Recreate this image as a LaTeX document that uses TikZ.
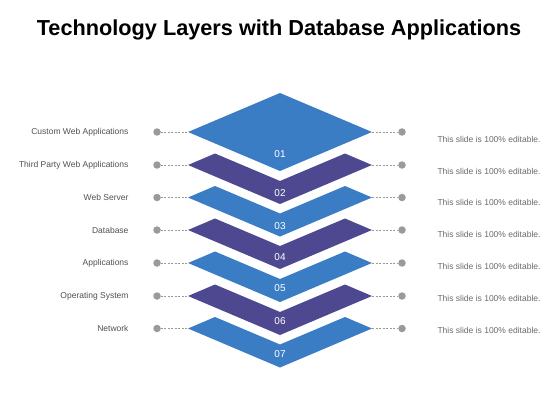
\documentclass[tikz,border=0pt]{standalone}
\usepackage{fontspec}
\setmainfont{Liberation Sans}
\definecolor{layblue}{HTML}{3A7DC4}
\definecolor{laypurple}{HTML}{4E4890}
\definecolor{dotgray}{HTML}{9A9A9A}
\definecolor{txtgray}{HTML}{505050}
\begin{document}
\begin{tikzpicture}
  [ x=1pt, y=-1pt
  , blay/.style={fill=layblue}
  , play/.style={fill=laypurple}
  , num/.style={text=white, font=\fontsize{10}{12}\selectfont}
  , dot/.style={circle, fill=dotgray, inner sep=0pt, minimum size=7.5pt}
  , link/.style={draw=dotgray, dash pattern=on 2pt off 1.5pt, line width=0.6pt}
  , lname/.style={anchor=east, text=txtgray, font=\fontsize{8.5}{10}\selectfont}
  , rnote/.style={anchor=west, text=txtgray!85, font=\fontsize{8.5}{10}\selectfont}
  ]

  \useasboundingbox (0,0) rectangle (560,420);

  \node[font=\bfseries\fontsize{21.7}{26}\selectfont] (title) at (279,30)
    {Technology Layers with Database Applications};

  % top diamond
  \fill[blay] (188,132) coordinate (l1) -- (280,93) -- (372,132) coordinate (r1)
    -- (280,171) -- cycle;
  % chevrons
  \fill[play] (188,165) coordinate (l2) -- (215,153.5) -- (280,181) -- (345,153.5)
    -- (372,165) coordinate (r2) -- (280,204) -- cycle;
  \fill[blay] (188,197.5) coordinate (l3) -- (215,186) -- (280,213.5) -- (345,186)
    -- (372,197.5) coordinate (r3) -- (280,236.5) -- cycle;
  \fill[play] (188,230) coordinate (l4) -- (215,218.5) -- (280,246) -- (345,218.5)
    -- (372,230) coordinate (r4) -- (280,269) -- cycle;
  \fill[blay] (188,263) coordinate (l5) -- (215,251.5) -- (280,279) -- (345,251.5)
    -- (372,263) coordinate (r5) -- (280,302) -- cycle;
  \fill[play] (188,296) coordinate (l6) -- (215,284.5) -- (280,312) -- (345,284.5)
    -- (372,296) coordinate (r6) -- (280,335) -- cycle;
  \fill[blay] (188,328.5) coordinate (l7) -- (215,317) -- (280,344.5) -- (345,317)
    -- (372,328.5) coordinate (r7) -- (280,367.5) -- cycle;

  \node[num] (n1) at (280,154) {01};
  \node[num] (n2) at (280,193) {02};
  \node[num] (n3) at (280,226) {03};
  \node[num] (n4) at (280,257) {04};
  \node[num] (n5) at (280,288) {05};
  \node[num] (n6) at (280,321) {06};
  \node[num] (n7) at (280,354) {07};

  % left side
  \node[dot] (dl1) at (157,132)   {};
  \node[dot] (dl2) at (157,165)   {};
  \node[dot] (dl3) at (157,197.5) {};
  \node[dot] (dl4) at (157,230)   {};
  \node[dot] (dl5) at (157,263)   {};
  \node[dot] (dl6) at (157,296)   {};
  \node[dot] (dl7) at (157,328.5) {};

  \node[lname] (t1) at (132,132)   {Custom Web Applications};
  \node[lname] (t2) at (132,165)   {Third Party Web Applications};
  \node[lname] (t3) at (132,197.5) {Web Server};
  \node[lname] (t4) at (132,230)   {Database};
  \node[lname] (t5) at (132,263)   {Applications};
  \node[lname] (t6) at (132,296)   {Operating System};
  \node[lname] (t7) at (132,328.5) {Network};

  % right side
  \node[dot] (dr1) at (402,132)   {};
  \node[dot] (dr2) at (402,165)   {};
  \node[dot] (dr3) at (402,197.5) {};
  \node[dot] (dr4) at (402,230)   {};
  \node[dot] (dr5) at (402,263)   {};
  \node[dot] (dr6) at (402,296)   {};
  \node[dot] (dr7) at (402,328.5) {};

  \node[rnote] (e1) at (434,139)   {This slide is 100\% editable.};
  \node[rnote] (e2) at (434,171)   {This slide is 100\% editable.};
  \node[rnote] (e3) at (434,202)   {This slide is 100\% editable.};
  \node[rnote] (e4) at (434,234)   {This slide is 100\% editable.};
  \node[rnote] (e5) at (434,266)   {This slide is 100\% editable.};
  \node[rnote] (e6) at (434,298)   {This slide is 100\% editable.};
  \node[rnote] (e7) at (434,330)   {This slide is 100\% editable.};

  \draw[link] (dl1) -- (l1);
  \draw[link] (dl2) -- (l2);
  \draw[link] (dl3) -- (l3);
  \draw[link] (dl4) -- (l4);
  \draw[link] (dl5) -- (l5);
  \draw[link] (dl6) -- (l6);
  \draw[link] (dl7) -- (l7);

  \draw[link] (r1) -- (dr1);
  \draw[link] (r2) -- (dr2);
  \draw[link] (r3) -- (dr3);
  \draw[link] (r4) -- (dr4);
  \draw[link] (r5) -- (dr5);
  \draw[link] (r6) -- (dr6);
  \draw[link] (r7) -- (dr7);

\end{tikzpicture}
\end{document}
